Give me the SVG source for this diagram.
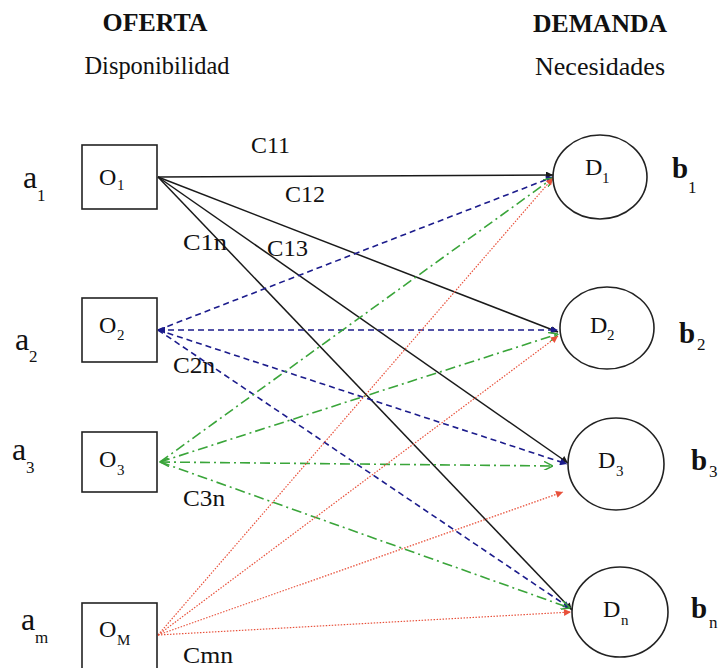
<svg xmlns="http://www.w3.org/2000/svg" width="718" height="668" viewBox="0 0 718 668" font-family="'Liberation Serif', 'DejaVu Serif', serif">
<style>
text{font-family:"Liberation Serif","DejaVu Serif",serif;fill:#111}
.hd{font-size:26px;font-weight:bold}
.sh{font-size:26px}
.big{font-size:32px}
.bb{font-size:29px;font-weight:bold}
.nd{font-size:24px}
.sub{font-size:15px}
.sub2{font-size:17px;font-weight:normal}
.cl{font-size:24px}
.box{fill:#fff;stroke:#222;stroke-width:1.6}
.circ{fill:#fff;stroke:#222;stroke-width:1.6}
.k{stroke:#1a1a1a;stroke-width:1.5;fill:none}
.b{stroke:#1c1c8c;stroke-width:1.6;fill:none;stroke-dasharray:6 4}
.g{stroke:#3aa53a;stroke-width:1.6;fill:none;stroke-dasharray:10 4 2 4}
.r{stroke:#e8503a;stroke-width:1.2;fill:none;stroke-dasharray:1.5 1.5}
</style>
<defs>
<marker id="ak" viewBox="0 0 10 10" refX="10" refY="5" markerWidth="9" markerHeight="7" markerUnits="userSpaceOnUse" orient="auto"><path d="M0,0 L10,5 L0,10 z" fill="#1a1a1a"/></marker>
<marker id="ab" viewBox="0 0 10 10" refX="10" refY="5" markerWidth="9" markerHeight="7" markerUnits="userSpaceOnUse" orient="auto-start-reverse"><path d="M0,0 L10,5 L0,10 z" fill="#1c1c8c"/></marker>
<marker id="ag" viewBox="0 0 10 10" refX="10" refY="5" markerWidth="10" markerHeight="9" markerUnits="userSpaceOnUse" orient="auto-start-reverse"><path d="M0,0 L10,5 L0,10" fill="none" stroke="#3aa53a" stroke-width="1.6"/></marker>
<marker id="ar" viewBox="0 0 10 10" refX="10" refY="5" markerWidth="9" markerHeight="7" markerUnits="userSpaceOnUse" orient="auto"><path d="M0,0 L10,5 L0,10 z" fill="#e8503a"/></marker>
</defs>

<g id="headers">
<text class="hd" x="155" y="31" text-anchor="middle" textLength="105" lengthAdjust="spacingAndGlyphs">OFERTA</text>
<text class="sh" x="157" y="74" text-anchor="middle" textLength="145" lengthAdjust="spacingAndGlyphs">Disponibilidad</text>
<text class="hd" x="600" y="32" text-anchor="middle" textLength="134" lengthAdjust="spacingAndGlyphs">DEMANDA</text>
<text class="sh" x="600" y="75" text-anchor="middle" textLength="130" lengthAdjust="spacingAndGlyphs">Necesidades</text>
</g>

<g id="connectors">
<line class="k" x1="158" y1="177" x2="553" y2="175" marker-end="url(#ak)"/>
<line class="k" x1="158" y1="177" x2="558" y2="332" marker-end="url(#ak)"/>
<line class="k" x1="158" y1="177" x2="568" y2="463" marker-end="url(#ak)"/>
<line class="k" x1="158" y1="177" x2="572" y2="610" marker-end="url(#ak)"/>
<line class="b" x1="158" y1="330" x2="553" y2="177" marker-end="url(#ab)"/>
<line class="b" x1="158" y1="330" x2="558" y2="330" marker-start="url(#ab)" marker-end="url(#ab)"/>
<line class="b" x1="158" y1="330" x2="567" y2="464" marker-end="url(#ab)"/>
<line class="b" x1="158" y1="330" x2="570" y2="608" marker-end="url(#ab)"/>
<line class="g" x1="160" y1="462" x2="553" y2="178" marker-end="url(#ag)"/>
<line class="g" x1="160" y1="462" x2="558" y2="334" marker-end="url(#ag)"/>
<line class="g" x1="160" y1="462" x2="553" y2="466" marker-start="url(#ag)" marker-end="url(#ag)"/>
<line class="g" x1="160" y1="462" x2="570" y2="608" marker-end="url(#ag)"/>
<line class="r" x1="158" y1="635" x2="553" y2="178" marker-end="url(#ar)"/>
<line class="r" x1="158" y1="635" x2="558" y2="336" marker-end="url(#ar)"/>
<line class="r" x1="158" y1="635" x2="563" y2="492" marker-end="url(#ar)"/>
<line class="r" x1="158" y1="635" x2="571" y2="612" marker-end="url(#ar)"/>
</g>

<g id="edge-labels">
<text class="cl" x="251" y="153" textLength="39" lengthAdjust="spacingAndGlyphs">C11</text>
<text class="cl" x="285" y="202" textLength="40" lengthAdjust="spacingAndGlyphs">C12</text>
<text class="cl" x="267" y="256" textLength="41" lengthAdjust="spacingAndGlyphs">C13</text>
<text class="cl" x="183" y="250" textLength="44" lengthAdjust="spacingAndGlyphs">C1n</text>
<text class="cl" x="173" y="373" textLength="42" lengthAdjust="spacingAndGlyphs">C2n</text>
<text class="cl" x="183" y="506" textLength="42" lengthAdjust="spacingAndGlyphs">C3n</text>
<text class="cl" x="183" y="663" textLength="50" lengthAdjust="spacingAndGlyphs">Cmn</text>
</g>

<g id="O1">
<rect class="box" x="82" y="145" width="75" height="64"/>
<text class="nd" x="99" y="185">O<tspan class="sub" x="117" y="190">1</tspan></text>
</g>
<g id="O2">
<rect class="box" x="82" y="298" width="75" height="64"/>
<text class="nd" x="99" y="333">O<tspan class="sub" x="117" y="340">2</tspan></text>
</g>
<g id="O3">
<rect class="box" x="82" y="432" width="75" height="60"/>
<text class="nd" x="99" y="467">O<tspan class="sub" x="117" y="475">3</tspan></text>
</g>
<g id="OM">
<rect class="box" x="82" y="603" width="75" height="70"/>
<text class="nd" x="99" y="637">O<tspan class="sub" x="117" y="645">M</tspan></text>
</g>

<g id="a-labels">
<text class="big" x="23" y="188">a<tspan class="sub2" x="37" y="201">1</tspan></text>
<text class="big" x="15" y="350">a<tspan class="sub2" x="29" y="362">2</tspan></text>
<text class="big" x="12" y="460">a<tspan class="sub2" x="26" y="473">3</tspan></text>
<text class="big" x="21" y="630">a<tspan class="sub2" x="35" y="643">m</tspan></text>
</g>

<g id="D1">
<ellipse class="circ" cx="600" cy="177" rx="47" ry="42"/>
<text class="nd" x="585" y="175">D<tspan class="sub" x="602" y="183">1</tspan></text>
</g>
<g id="D2">
<ellipse class="circ" cx="607" cy="328" rx="47" ry="41"/>
<text class="nd" x="590" y="333">D<tspan class="sub" x="607" y="340">2</tspan></text>
</g>
<g id="D3">
<ellipse class="circ" cx="616" cy="464" rx="48" ry="46"/>
<text class="nd" x="598" y="468">D<tspan class="sub" x="616" y="476">3</tspan></text>
</g>
<g id="Dn">
<ellipse class="circ" cx="620" cy="612" rx="48" ry="45"/>
<text class="nd" x="603" y="617">D<tspan class="sub" x="621" y="625">n</tspan></text>
</g>

<g id="b-labels">
<text class="bb" x="672" y="178">b<tspan class="sub2" x="688" y="193">1</tspan></text>
<text class="bb" x="679" y="343">b<tspan class="sub2" x="697" y="350">2</tspan></text>
<text class="bb" x="691" y="470">b<tspan class="sub2" x="709" y="477">3</tspan></text>
<text class="bb" x="691" y="618">b<tspan class="sub2" x="709" y="628">n</tspan></text>
</g>
</svg>
